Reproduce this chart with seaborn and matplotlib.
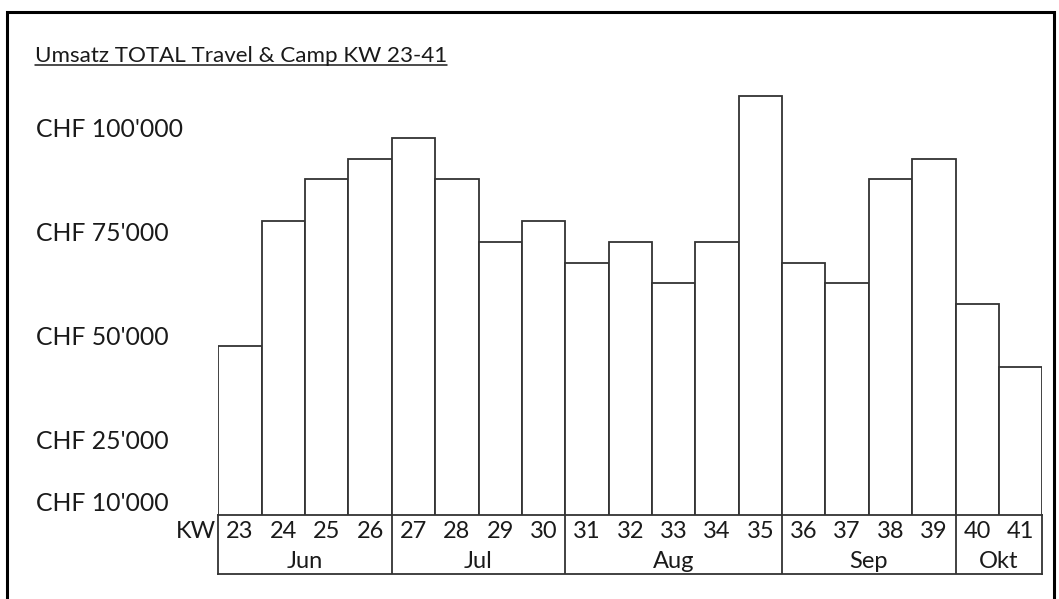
import pandas as pd
import seaborn as sns
import matplotlib.pyplot as plt
from matplotlib.patches import Rectangle
from matplotlib.lines import Line2D

sns.set_style('white')
plt.rcParams['font.family'] = ['Lato', 'DejaVu Sans']

# Daten
titel = 'Umsatz TOTAL Travel & Camp KW 23-41'
kw = [23, 24, 25, 26, 27, 28, 29, 30, 31, 32, 33, 34, 35, 36, 37, 38, 39, 40, 41]
umsatz = [47500, 77500, 87500, 92500, 97500, 87500, 72500, 77500, 67500, 72500,
          62500, 72500, 107500, 67500, 62500, 87500, 92500, 57500, 42500]
monate = ['Jun', 'Jul', 'Aug', 'Sep', 'Okt']
wochen_pro_monat = [4, 4, 5, 4, 2]
y_ticks = [10000, 25000, 50000, 75000, 100000]
y_labels = ["CHF 10'000", "CHF 25'000", "CHF 50'000", "CHF 75'000", "CHF 100'000"]

W, H = 1059, 599
txt = '#1a1a1a'
rand = '#333333'
fs_y = 17.8
fs_tab = 17

fig = plt.figure(figsize=(W / 100, H / 100), dpi=100)

# Balken
ax = fig.add_axes([218.3 / W, 1 - 515 / H, (1042.3 - 218.3) / W, (515 - 20) / H])
df = pd.DataFrame({'KW': [str(k) for k in kw], 'Umsatz': umsatz})
sns.barplot(data=df, x='KW', y='Umsatz', color='white', edgecolor=rand,
            linewidth=1.3, width=1, saturation=1, ax=ax)
ax.set_xlim(-0.5, len(kw) - 0.5)
ax.set_ylim(6850, 125840)
for s in ax.spines.values():
    s.set_visible(False)
ax.set_xticks([])
ax.set_xlabel('')
ax.set_ylabel('')
ax.set_yticks(y_ticks, y_labels)
ax.tick_params(axis='y', length=0, pad=(218.3 - 36) * 72 / 100, labelsize=fs_y, labelcolor=txt)
for t in ax.get_yticklabels():
    t.set_ha('left')
    t.set_va('center_baseline')

# Tabelle unter den Balken
ax2 = fig.add_axes([218.3 / W, 1 - 574 / H, (1042.3 - 218.3) / W, (574 - 515) / H])
ax2.set_xlim(-0.5, len(kw) - 0.5)
ax2.set_ylim(0, 1)
ax2.set_xticks([])
ax2.set_yticks([])
for s in ax2.spines.values():
    s.set_color(rand)
    s.set_linewidth(1.3)

for i, k in enumerate(kw):
    ax2.text(i, 0.61, str(k), ha='center', va='baseline', fontsize=fs_tab, color=txt)
ax2.annotate('KW', xy=(-0.5, 0.61), xytext=(-2, 0), textcoords='offset points',
             ha='right', va='baseline', fontsize=fs_tab, color=txt, annotation_clip=False)

start = 0
for m, n in zip(monate, wochen_pro_monat):
    ax2.text(start + (n - 1) / 2, 0.10, m, ha='center', va='baseline', fontsize=fs_tab, color=txt)
    start += n
    if start < len(kw):
        ax2.axvline(start - 0.5, color=rand, lw=1.3)

# Titel mit Unterstreichung
t = fig.text(35 / W, 1 - 62 / H, titel, ha='left', va='baseline', fontsize=16.1, color=txt)
fig.canvas.draw()
bb = t.get_window_extent()
fig.add_artist(Line2D([bb.x0 / W, bb.x1 / W], [1 - 64.5 / H, 1 - 64.5 / H],
                      transform=fig.transFigure, color=txt, lw=1.1))

# Rahmen
fig.add_artist(Rectangle((6.5 / W, -0.1), (1053.5 - 6.5) / W, 0.1 + (H - 12) / H,
                         transform=fig.transFigure, fill=False, edgecolor='black',
                         lw=2.2, clip_on=False))

fig.savefig('out.png', dpi=100)
